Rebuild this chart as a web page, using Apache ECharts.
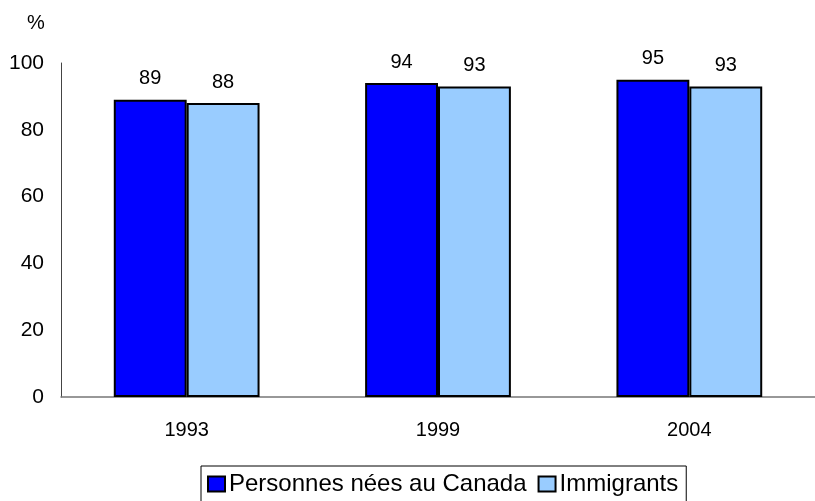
<!DOCTYPE html>
<html lang="fr">
<head>
<meta charset="utf-8">
<title>Personnes nées au Canada / Immigrants</title>
<script src="https://cdn.jsdelivr.net/npm/echarts@6/dist/echarts.min.js"></script>
<style>
  html, body { margin: 0; padding: 0; background: #fff; }
  #main { width: 815px; height: 501px; }
</style>
</head>
<body>
<div id="main"></div>
<script>
// données
var years = ['1993', '1999', '2004'];
var nesCanada = [89, 94, 95];
var immigrants = [88, 93, 93];
var yTicks = [0, 20, 40, 60, 80, 100];

var chart = echarts.init(document.getElementById('main'));
var font = 'Liberation Sans, Arial, sans-serif';

chart.setOption({
    backgroundColor: '#fff',
    animation: false,
    title: {
        text: '%',
        left: 22,
        top: 8,
        textStyle: { fontFamily: font, fontSize: 20, fontWeight: 'normal', color: '#000' }
    },
    legend: {
        left: 201,
        top: 466,
        padding: [6, 8, 8, 6],
        borderColor: '#000',
        borderWidth: 1,
        itemWidth: 17,
        itemHeight: 15,
        itemGap: 11,
        icon: 'rect',
        textStyle: { fontFamily: font, fontSize: 24, color: '#000', padding: [0, 0, 0, -1] },
        data: ['Personnes nées au Canada', 'Immigrants']
    },
    grid: { left: 61, top: 63, width: 763, height: 334 },
    xAxis: {
        type: 'category',
        data: years,
        axisLine: { lineStyle: { color: '#777', width: 1.5 } },
        axisTick: { show: false },
        axisLabel: { fontFamily: font, fontSize: 20, color: '#000', margin: 23 }
    },
    yAxis: {
        type: 'value',
        min: yTicks[0],
        max: yTicks[yTicks.length - 1],
        interval: 20,
        axisLine: { show: true, lineStyle: { color: '#444', width: 1 } },
        axisTick: { show: false },
        splitLine: { show: false },
        axisLabel: { fontFamily: font, fontSize: 21, color: '#000', margin: 17 }
    },
    series: [
        {
            name: 'Personnes nées au Canada',
            type: 'bar',
            data: nesCanada,
            barGap: 0,
            barCategoryGap: '42%',
            itemStyle: { color: '#0000FF', borderColor: '#000', borderWidth: 2 },
            label: { show: true, position: 'top', distance: 11, fontFamily: font, fontSize: 20, color: '#000' }
        },
        {
            name: 'Immigrants',
            type: 'bar',
            data: immigrants,
            barGap: 0,
            barCategoryGap: '42%',
            itemStyle: { color: '#99CCFF', borderColor: '#000', borderWidth: 2 },
            label: { show: true, position: 'top', distance: 11, fontFamily: font, fontSize: 20, color: '#000' }
        }
    ]
});
</script>
</body>
</html>
